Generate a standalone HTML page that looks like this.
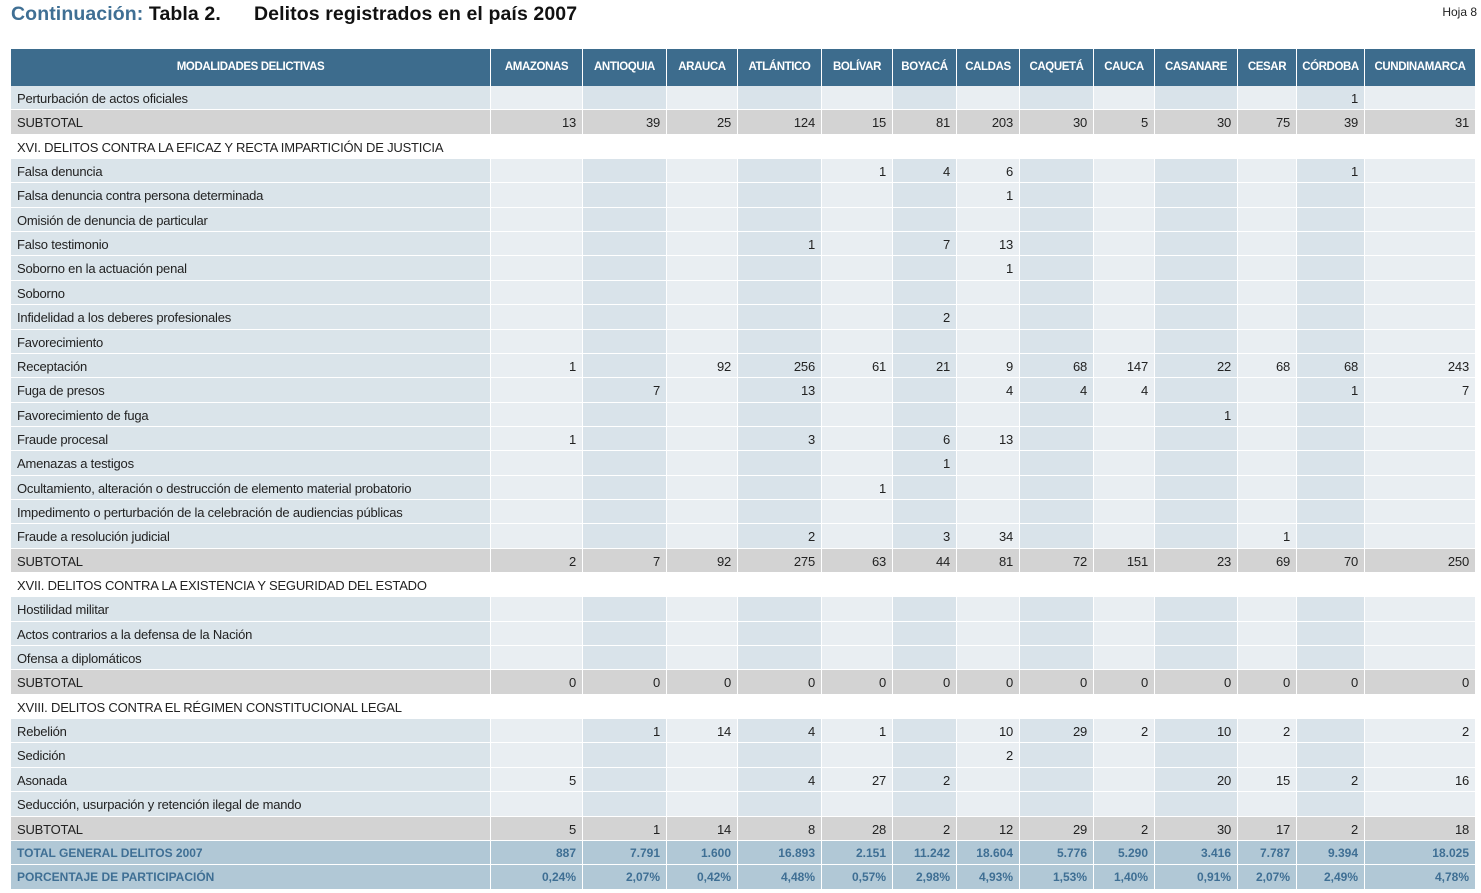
<!DOCTYPE html>
<html><head><meta charset="utf-8"><style>
body{margin:0;width:1481px;height:893px;background:#fff;position:relative;overflow:hidden;font-family:"Liberation Sans",sans-serif;color:#222}
.c{position:absolute;box-sizing:border-box;font-size:13px;letter-spacing:-0.2px;line-height:25px;white-space:nowrap;overflow:hidden}
.h{background:#3d6c8d;color:#fff;font-weight:bold;font-size:11.5px;letter-spacing:-0.4px;text-align:center;line-height:36px}
#title{position:absolute;left:11px;top:3px;font-family:"Liberation Sans",sans-serif;font-size:19.5px;font-weight:bold;color:#111;letter-spacing:0.1px}
#title .a{color:#3f6f94}
#hoja{position:absolute;right:4px;top:5px;font-family:"Liberation Sans",sans-serif;font-size:12px;color:#222}
</style></head><body>
<div id="title"><span class="a">Continuación:</span> Tabla 2.&nbsp;&nbsp;&nbsp;&nbsp;&nbsp; Delitos registrados en el país 2007</div>
<div id="hoja">Hoja 8</div>
<div id="tbl"></div>
<script>
const columns=["MODALIDADES DELICTIVAS","AMAZONAS","ANTIOQUIA","ARAUCA","ATLÁNTICO","BOLÍVAR","BOYACÁ","CALDAS","CAQUETÁ","CAUCA","CASANARE","CESAR","CÓRDOBA","CUNDINAMARCA"];
const colEdges=[11,491,583,667,738,822,893,957,1020,1094,1155,1238,1297,1365,1476];
const E=['','','','','','','','','','','','',''];
function r(label,type,vals){return {label,type,vals:vals||E};}
function sp(m){const a=E.slice();for(const k in m)a[k]=m[k];return a;}
const rows=[
r("Perturbación de actos oficiales","d",sp({11:1})),
r("SUBTOTAL","s",[13,39,25,124,15,81,203,30,5,30,75,39,31]),
r("XVI. DELITOS CONTRA LA EFICAZ Y RECTA IMPARTICIÓN DE JUSTICIA","x"),
r("Falsa denuncia","d",sp({4:1,5:4,6:6,11:1})),
r("Falsa denuncia contra persona determinada","d",sp({6:1})),
r("Omisión de denuncia de particular","d"),
r("Falso testimonio","d",sp({3:1,5:7,6:13})),
r("Soborno en la actuación penal","d",sp({6:1})),
r("Soborno","d"),
r("Infidelidad a los deberes profesionales","d",sp({5:2})),
r("Favorecimiento","d"),
r("Receptación","d",[1,'',92,256,61,21,9,68,147,22,68,68,243]),
r("Fuga de presos","d",['',7,'',13,'','',4,4,4,'','',1,7]),
r("Favorecimiento de fuga","d",sp({9:1})),
r("Fraude procesal","d",sp({0:1,3:3,5:6,6:13})),
r("Amenazas a testigos","d",sp({5:1})),
r("Ocultamiento, alteración o destrucción de elemento material probatorio","d",sp({4:1})),
r("Impedimento o perturbación de la celebración de audiencias públicas","d"),
r("Fraude a resolución judicial","d",sp({3:2,5:3,6:34,10:1})),
r("SUBTOTAL","s",[2,7,92,275,63,44,81,72,151,23,69,70,250]),
r("XVII. DELITOS CONTRA LA EXISTENCIA Y SEGURIDAD DEL ESTADO","x"),
r("Hostilidad militar","d"),
r("Actos contrarios a la defensa de la Nación","d"),
r("Ofensa a diplomáticos","d"),
r("SUBTOTAL","s",[0,0,0,0,0,0,0,0,0,0,0,0,0]),
r("XVIII. DELITOS CONTRA EL RÉGIMEN CONSTITUCIONAL LEGAL","x"),
r("Rebelión","d",['',1,14,4,1,'',10,29,2,10,2,'',2]),
r("Sedición","d",sp({6:2})),
r("Asonada","d",[5,'','',4,27,2,'','','',20,15,2,16]),
r("Seducción, usurpación y retención ilegal de mando","d"),
r("SUBTOTAL","s",[5,1,14,8,28,2,12,29,2,30,17,2,18]),
r("TOTAL GENERAL DELITOS 2007","t",["887","7.791","1.600","16.893","2.151","11.242","18.604","5.776","5.290","3.416","7.787","9.394","18.025"]),
r("PORCENTAJE DE PARTICIPACIÓN","t",["0,24%","2,07%","0,42%","4,48%","0,57%","2,98%","4,93%","1,53%","1,40%","0,91%","2,07%","2,49%","4,78%"])
];
const tbl=document.getElementById('tbl');
const top0=49,headH=37,rowH=24.35;
function cell(x,y,w,h,txt,cls,st){const d=document.createElement('div');d.className='c '+(cls||'');d.style.cssText=`left:${x}px;top:${y}px;width:${w}px;height:${h}px;`+(st||'');d.textContent=txt;tbl.appendChild(d);return d;}
columns.forEach((c,i)=>{const x=colEdges[i],w=colEdges[i+1]-x;
const d=cell(x,top0,w,headH,c,'h','border-right:1px solid #fff;');

});
rows.forEach((row,ri)=>{
const y=top0+headH+ri*rowH, y0=Math.round(y), h=Math.round(y+rowH)-y0;
if(row.type==='x'){const d=cell(11,y0,1465,h,row.label,'','padding-left:6px;background:#fff;');

return;}
for(let i=0;i<14;i++){
const x=colEdges[i],w=colEdges[i+1]-x;let bg,st='',txt;
if(row.type==='s')bg='#d3d3d3';
else if(row.type==='t'){bg='#b1c8d6';st='color:#3f6f94;font-weight:bold;font-size:12px;letter-spacing:0;';}
else bg=(i%2===1)?'#e9eef2':'#d9e3ea';
if(row.type==='d'&&i===0)bg='#dae4ea';
txt=i===0?row.label:String(row.vals[i-1]);
const d=cell(x,y0,w,h,txt,'',`background:${bg};border-right:1px solid #fff;border-bottom:1px solid #fff;`+(i===0?'padding-left:6px;':'text-align:right;padding-right:6px;')+st);


}});
</script>
</body></html>
